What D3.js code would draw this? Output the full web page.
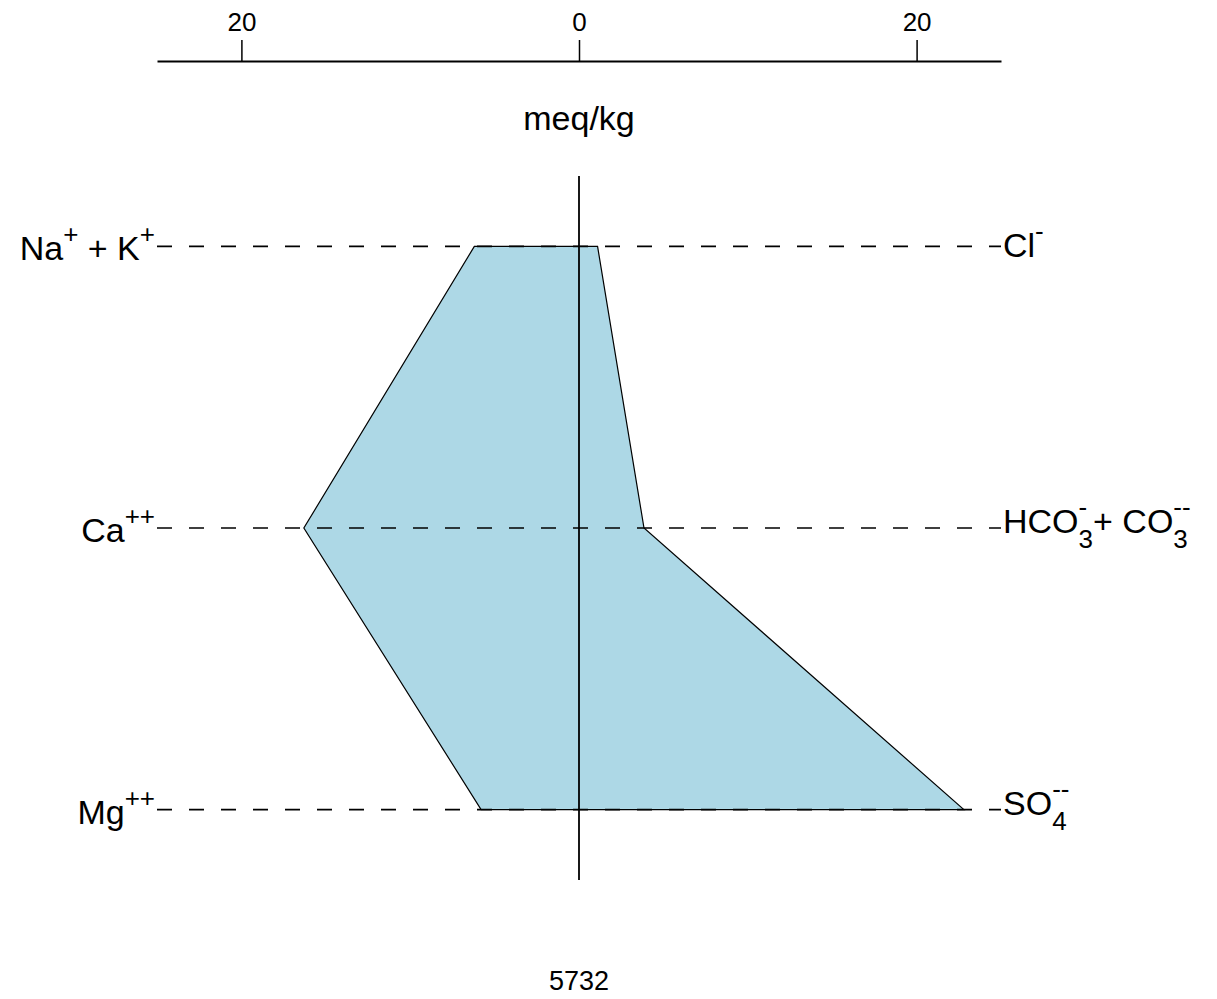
<!DOCTYPE html>
<html>
<head>
<meta charset="utf-8">
<script src="https://cdn.jsdelivr.net/npm/d3@7"></script>
<style>
  body { margin: 0; background: #fff; }
  svg { display: block; font-family: "Liberation Sans", Arial, sans-serif; }
  svg text { white-space: pre; }
</style>
</head>
<body>
<svg id="chart"></svg>
<script>
// stiff diagram values (meq/kg)
var cationNames = ['Na + K', 'Ca', 'Mg'];
var cationValues = [6.2, 16.3, 5.8];
var anionNames = ['Cl', 'HCO3 + CO3', 'SO4'];
var anionValues = [1.1, 3.85, 22.8];
var tickValues = [-20, 0, 20];
var sampleName = '5732';
var unitLabel = 'meq/kg';

// label pieces: b = base text, sup = superscript, sub + sup = stacked
var cationLabels = [
  [{b: 'Na'}, {sup: '+'}, {b: '\u00a0+ K'}, {sup: '+'}],
  [{b: 'Ca'}, {sup: '++'}],
  [{b: 'Mg'}, {sup: '++'}]
];
var anionLabels = [
  [{b: 'Cl'}, {sup: '-'}],
  [{b: 'HCO'}, {sub: '3', sup: '-'}, {b: '+ CO'}, {sub: '3', sup: '--'}],
  [{b: 'SO'}, {sub: '4', sup: '--'}]
];

var width = 1217;
var height = 999;

var svg = d3.select('#chart')
  .attr('width', width)
  .attr('height', height);

var x = d3.scaleLinear().domain([-25, 25]).range([157, 1001]);
var y = d3.scaleLinear().domain([0.75, 3.25]).range([176, 880]);

// top axis
var axis = d3.axisTop(x)
  .tickValues(tickValues)
  .tickFormat(function(d) { return Math.abs(d); })
  .tickSize(21)
  .tickSizeOuter(0)
  .tickPadding(9);

var gAxis = svg.append('g')
  .attr('transform', 'translate(0,61)')
  .call(axis);
gAxis.select('.domain').attr('stroke', '#000').attr('stroke-width', 2);
gAxis.selectAll('.tick line').attr('stroke', '#000').attr('stroke-width', 1.5);
gAxis.selectAll('.tick text')
  .attr('fill', '#000')
  .style('font-size', '26px')
  .style('font-family', '"Liberation Sans", Arial, sans-serif');

svg.append('text')
  .attr('x', x(0))
  .attr('y', 130)
  .attr('text-anchor', 'middle')
  .style('font-size', '34px')
  .text(unitLabel);

// polygon: left side top->bottom (cations), right side bottom->top (anions)
var rows = [1, 2, 3];
var pts = [];
rows.forEach(function(r, i) { pts.push([x(-cationValues[i]), y(r)]); });
rows.slice().reverse().forEach(function(r) { pts.push([x(anionValues[r - 1]), y(r)]); });

svg.append('path')
  .attr('d', d3.line()(pts) + 'Z')
  .attr('fill', '#ADD8E6')
  .attr('stroke', '#000')
  .attr('stroke-width', 1.2);

// dashed row lines
svg.selectAll('.rowline')
  .data(rows)
  .enter().append('line')
  .attr('class', 'rowline')
  .attr('x1', x.range()[0])
  .attr('x2', x.range()[1])
  .attr('y1', function(d) { return y(d); })
  .attr('y2', function(d) { return y(d); })
  .attr('stroke', '#000')
  .attr('stroke-width', 1.6)
  .attr('stroke-dasharray', '15,17');

// center line
svg.append('line')
  .attr('x1', x(0)).attr('x2', x(0))
  .attr('y1', y.range()[0]).attr('y2', y.range()[1])
  .attr('stroke', '#000')
  .attr('stroke-width', 1.8);

// draws a label made of pieces
function drawLabel(parts, x0, base, anchor) {
  var g = svg.append('g');
  var cx = 0;
  parts.forEach(function(p) {
    if (p.b !== undefined) {
      var t = g.append('text').attr('x', cx).attr('y', base)
        .style('font-size', '34px').text(p.b);
      cx += t.node().getComputedTextLength();
    } else {
      var w = 0;
      if (p.sup !== undefined) {
        var s = g.append('text').attr('x', cx).attr('y', base - 17)
          .style('font-size', '26px').text(p.sup);
        w = Math.max(w, s.node().getComputedTextLength());
      }
      if (p.sub !== undefined) {
        var u = g.append('text').attr('x', cx).attr('y', base + 15)
          .style('font-size', '26px').text(p.sub);
        w = Math.max(w, u.node().getComputedTextLength());
      }
      cx += w;
    }
  });
  var shift = anchor === 'end' ? x0 - cx : x0;
  g.attr('transform', 'translate(' + shift + ',0)');
  return g;
}

cationLabels.forEach(function(parts, i) {
  drawLabel(parts, 155, y(rows[i]) + 14, 'end');
});
anionLabels.forEach(function(parts, i) {
  var hasSub = parts.some(function(p) { return p.sub !== undefined; });
  drawLabel(parts, 1003, y(rows[i]) + (hasSub ? 5 : 11), 'start');
});

// sample name
svg.append('text')
  .attr('x', x(0))
  .attr('y', 990)
  .attr('text-anchor', 'middle')
  .style('font-size', '27px')
  .text(sampleName);
</script>
</body>
</html>
